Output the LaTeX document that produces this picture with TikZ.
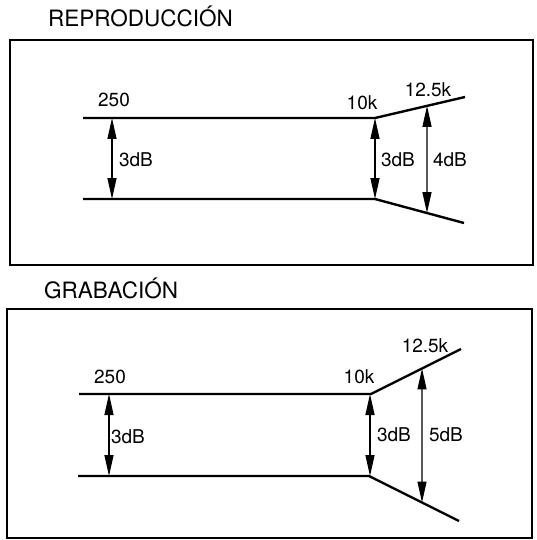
\documentclass[tikz,border=0pt]{standalone}
\usepackage{fontspec}
\setmainfont{TeX Gyre Heros}
\usetikzlibrary{arrows.meta}
\tikzset{
  every picture/.style={font=\fontsize{19}{21}\selectfont},
  eq frame/.style={draw, line width=1.4pt},
  eq curve/.style={draw, line width=2.4pt, line join=miter},
  eq gap/.style={draw, line width=1.3pt,
    {Triangle[length=21pt,width=9pt]}-{Triangle[length=21pt,width=9pt]}},
  eq label/.style={inner sep=0pt, anchor=center},
  eq title/.style={font=\fontsize{22.5}{25}\selectfont, inner sep=0pt, anchor=base west}
}

\begin{document}
\begin{tikzpicture}[x=1pt,y=-1pt]
  \useasboundingbox (0,0) rectangle (536,540);

  % reproduccion
  \node[eq title] (rtitle) at (48,27) {REPRODUCCIÓN};
  \draw[eq frame] (10,40) rectangle (533,265);
  \coordinate (r-ta) at (83,118);
  \coordinate (r-tk) at (375,118);
  \coordinate (r-te) at (465,97);
  \coordinate (r-ba) at (83,199);
  \coordinate (r-bk) at (375,199);
  \coordinate (r-be) at (464,223);
  \draw[eq curve] (r-ta) -- (r-tk) -- (r-te) coordinate[pos=0.578] (r-hi);
  \draw[eq curve] (r-ba) -- (r-bk) -- (r-be) coordinate[pos=0.584] (r-lo);
  \coordinate (r-la) at (112,118);
  \coordinate (r-lb) at (112,199);
  \draw[eq gap] (r-la) -- (r-lb);
  \draw[eq gap] (r-tk) -- (r-bk);
  \draw[eq gap] (r-hi) -- (r-lo);
  \node[eq label] (r250) at (114,100) {250};
  \node[eq label] (r10k) at (362,103) {10k};
  \node[eq label] (r125k) at (428,90) {12.5k};
  \node[eq label] (rdb1) at (136,160) {3dB};
  \node[eq label] (rdb2) at (398,160) {3dB};
  \node[eq label] (rdb3) at (450,160) {4dB};

  % grabacion
  \node[eq title] (gtitle) at (44,298) {GRABACIÓN};
  \draw[eq frame] (7,309) rectangle (532,538);
  \coordinate (g-ta) at (79,394);
  \coordinate (g-tk) at (371,394);
  \coordinate (g-te) at (461,349);
  \coordinate (g-ba) at (78,476);
  \coordinate (g-bk) at (369,476);
  \coordinate (g-be) at (459,521);
  \draw[eq curve] (g-ta) -- (g-tk) -- (g-te) coordinate[pos=0.567] (g-hi);
  \draw[eq curve] (g-ba) -- (g-bk) -- (g-be) coordinate[pos=0.589] (g-lo);
  \coordinate (g-la) at (109,394);
  \coordinate (g-lb) at (109,476);
  \draw[eq gap] (g-la) -- (g-lb);
  \coordinate (g-ma) at (370,394);
  \coordinate (g-mb) at (370,476);
  \draw[eq gap] (g-ma) -- (g-mb);
  \draw[eq gap] (g-hi) -- (g-lo);
  \node[eq label] (g250) at (110,377) {250};
  \node[eq label] (g10k) at (359,377) {10k};
  \node[eq label] (g125k) at (425,346) {12.5k};
  \node[eq label] (gdb1) at (128,437) {3dB};
  \node[eq label] (gdb2) at (394,435) {3dB};
  \node[eq label] (gdb3) at (446,435) {5dB};
\end{tikzpicture}
\end{document}
